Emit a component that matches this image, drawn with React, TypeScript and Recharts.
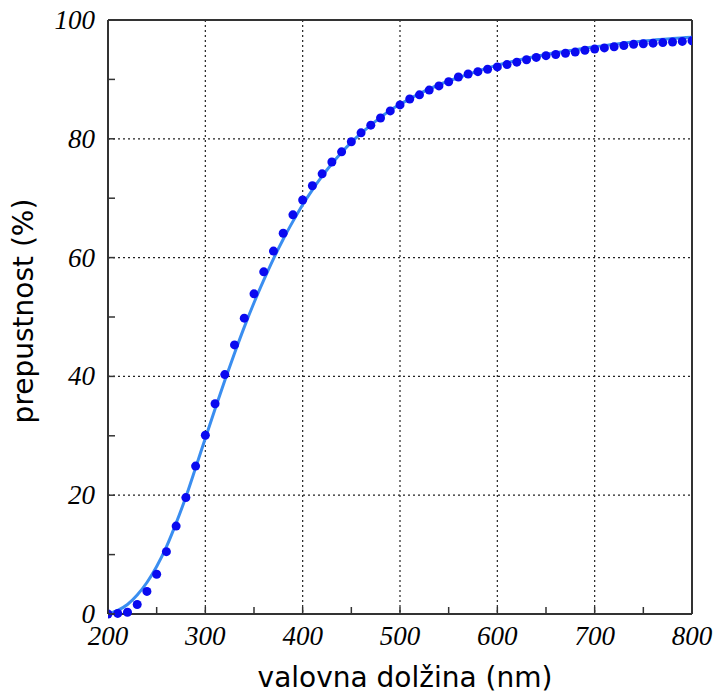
import {
  ComposedChart,
  Line,
  Scatter,
  XAxis,
  YAxis,
  CartesianGrid,
  ReferenceLine,
  Label,
} from "recharts";

// measured transmittance, every 10 nm
const WAVELENGTHS = [
  200, 210, 220, 230, 240, 250, 260, 270, 280, 290, 300, 310, 320, 330, 340,
  350, 360, 370, 380, 390, 400, 410, 420, 430, 440, 450, 460, 470, 480, 490,
  500, 510, 520, 530, 540, 550, 560, 570, 580, 590, 600, 610, 620, 630, 640,
  650, 660, 670, 680, 690, 700, 710, 720, 730, 740, 750, 760, 770, 780, 790,
  800,
];
const MEASURED = [
  0, 0.1, 0.3, 1.6, 3.8, 6.7, 10.5, 14.8, 19.6, 24.9, 30.1, 35.4, 40.3, 45.3,
  49.8, 53.9, 57.6, 61.1, 64.1, 67.2, 69.7, 72.1, 74.1, 76.1, 77.8, 79.5, 81.0,
  82.3, 83.5, 84.7, 85.7, 86.7, 87.4, 88.2, 88.9, 89.6, 90.4, 90.9, 91.3, 91.7,
  92.1, 92.5, 92.9, 93.3, 93.7, 94.0, 94.2, 94.4, 94.6, 94.9, 95.1, 95.3, 95.5,
  95.7, 95.9, 96.0, 96.1, 96.2, 96.3, 96.4, 96.5,
];

// fitted curve
const FIT_X = [
  200, 210, 220, 230, 240, 250, 260, 270, 280, 290, 300, 310, 320, 330, 340,
  350, 360, 370, 380, 390, 400, 410, 420, 430, 440, 450, 460, 470, 480, 490,
  500, 520, 540, 560, 580, 600, 620, 640, 660, 680, 700, 720, 740, 760, 780,
  800,
];
const FIT_Y = [
  0, 0.6, 1.6, 3.2, 5.3, 8.0, 11.3, 15.3, 19.7, 24.6, 29.6, 34.5, 39.3, 43.9,
  48.3, 52.4, 56.2, 59.8, 63.1, 66.1, 68.9, 71.4, 73.7, 75.8, 77.7, 79.4, 80.9,
  82.3, 83.6, 84.8, 85.8, 87.6, 89.1, 90.3, 91.4, 92.4, 93.2, 93.9, 94.5, 95.0,
  95.5, 95.9, 96.3, 96.6, 96.9, 97.1,
];

const X_TICKS = [200, 250, 300, 350, 400, 450, 500, 550, 600, 650, 700, 750, 800];
const X_LABELED = [200, 300, 400, 500, 600, 700, 800];
const Y_TICKS = [0, 10, 20, 30, 40, 50, 60, 70, 80, 90, 100];
const Y_LABELED = [0, 20, 40, 60, 80, 100];

const points = WAVELENGTHS.map((x, i) => ({ x, y: MEASURED[i] }));
const fit = FIT_X.map((x, i) => ({ x, y: FIT_Y[i] }));

const tickFont = {
  fontFamily: "'Liberation Serif', serif",
  fontStyle: "italic",
  fontSize: 27,
  fill: "#000",
};
const titleFont = { fontFamily: "'DejaVu Sans', sans-serif", fontSize: 28, fill: "#000" };
const frame = { stroke: "#333", strokeWidth: 2 };

function XTick({ x, y, payload }: any) {
  const v = payload.value;
  return (
    <g>
      <line x1={x} x2={x} y1={y} y2={y - 7} stroke="#333" strokeWidth={1.5} />
      {X_LABELED.includes(v) && (
        <text x={x} y={y + 31} textAnchor="middle" {...tickFont}>
          {v}
        </text>
      )}
    </g>
  );
}

function YTick({ x, y, payload }: any) {
  const v = payload.value;
  return (
    <g>
      <line x1={x} x2={x + 7} y1={y} y2={y} stroke="#333" strokeWidth={1.5} />
      {Y_LABELED.includes(v) && (
        <text x={x - 13} y={y + 9} textAnchor="end" {...tickFont}>
          {v}
        </text>
      )}
    </g>
  );
}

export default function App() {
  return (
    <div style={{ position: "absolute", left: 0, top: 0, background: "#fff" }}>
      <ComposedChart
        width={714}
        height={695}
        margin={{ top: 20, right: 22, bottom: 0, left: 0 }}
      >
        <CartesianGrid
          xAxisId="b"
          yAxisId="l"
          stroke="#222"
          strokeWidth={1.2}
          strokeDasharray="2 3"
          verticalValues={X_LABELED}
          horizontalValues={Y_LABELED}
        />
        <XAxis
          xAxisId="b"
          type="number"
          dataKey="x"
          domain={[200, 800]}
          ticks={X_TICKS}
          interval={0}
          height={81}
          axisLine={frame}
          tickLine={false}
          tickSize={0}
          tickMargin={0}
          tick={<XTick />}
          allowDataOverflow
        >
          <Label
            content={({ viewBox }: any) => (
              <text
                x={viewBox.x + viewBox.width / 2 + 5}
                y={viewBox.y + 73}
                textAnchor="middle"
                {...titleFont}
              >
                valovna dolžina (nm)
              </text>
            )}
          />
        </XAxis>
        <YAxis
          yAxisId="l"
          type="number"
          domain={[0, 100]}
          ticks={Y_TICKS}
          interval={0}
          width={108}
          axisLine={frame}
          tickLine={false}
          tickSize={0}
          tickMargin={0}
          tick={<YTick />}
        >
          <Label
            content={() => (
              <text
                x={33}
                y={311}
                textAnchor="middle"
                transform="rotate(-90, 33, 311)"
                {...titleFont}
              >
                prepustnost (%)
              </text>
            )}
          />
        </YAxis>
        <ReferenceLine xAxisId="b" yAxisId="l" y={100} {...frame} />
        <ReferenceLine xAxisId="b" yAxisId="l" x={800} {...frame} />
        <Line
          xAxisId="b"
          yAxisId="l"
          data={fit}
          dataKey="y"
          type="monotone"
          stroke="#3a8ef0"
          strokeWidth={3}
          dot={false}
          isAnimationActive={false}
        />
        <Scatter
          xAxisId="b"
          yAxisId="l"
          data={points}
          dataKey="y"
          fill="#0a0af0"
          shape={(p: any) => <circle cx={p.cx} cy={p.cy} r={4.5} fill="#0a0af0" />}
          isAnimationActive={false}
        />
      </ComposedChart>
    </div>
  );
}
